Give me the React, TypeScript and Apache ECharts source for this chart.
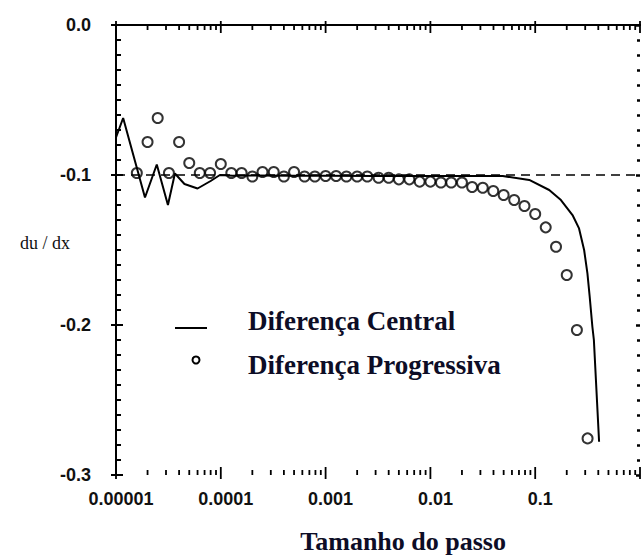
import { useEffect, useRef } from 'react';
import * as echarts from 'echarts';

// ---- Data ----
const xTickLabels = ['0.00001', '0.0001', '0.001', '0.01', '0.1'];
const yTickLabels = ['-0.3', '-0.2', '-0.1', '0.0'];

const centralName = 'Diferença Central';
const progressName = 'Diferença Progressiva';

const centralX = [
  1e-5, 1.17e-5, 1.89e-5, 2.45e-5, 3.13e-5, 3.65e-5, 4.5e-5, 6.0e-5, 8.0e-5, 9.8e-5,
  1.3e-4, 2e-4, 5e-4, 1e-3, 3e-3, 0.01, 0.03, 0.049, 0.0877, 0.136, 0.176, 0.227,
  0.262, 0.293, 0.315, 0.331, 0.351, 0.363, 0.407,
];
const centralY = [
  -0.075, -0.062, -0.115, -0.093, -0.12, -0.099, -0.106, -0.109, -0.104, -0.1,
  -0.1005, -0.1003, -0.1005, -0.1005, -0.1006, -0.1006, -0.1006, -0.1007, -0.1033, -0.11, -0.1167, -0.1267,
  -0.1356, -0.15, -0.1656, -0.181, -0.201, -0.21, -0.2778,
];

const progressX = [
  1.58e-5, 2.0e-5, 2.5e-5, 3.2e-5, 4.0e-5, 5.0e-5, 6.3e-5, 7.9e-5, 1.0e-4, 1.26e-4,
  1.58e-4, 2.0e-4, 2.5e-4, 3.2e-4, 4.0e-4, 5.0e-4, 6.3e-4, 7.9e-4, 1.0e-3, 1.26e-3,
  1.58e-3, 2.0e-3, 2.5e-3, 3.2e-3, 4.0e-3, 5.0e-3, 6.3e-3, 7.9e-3, 0.01, 0.0126,
  0.0158, 0.02, 0.025, 0.0316, 0.0398, 0.05, 0.063, 0.079, 0.1, 0.126,
  0.158, 0.2, 0.25, 0.316,
];
const progressY = [
  -0.0987, -0.078, -0.062, -0.0987, -0.078, -0.092, -0.0987, -0.0987, -0.0927, -0.0987,
  -0.0987, -0.101, -0.098, -0.098, -0.101, -0.098, -0.101, -0.101, -0.1007, -0.1007,
  -0.101, -0.101, -0.101, -0.1018, -0.1018, -0.1029, -0.1029, -0.1044, -0.1044, -0.105,
  -0.105, -0.105, -0.108, -0.1085, -0.1107, -0.1133, -0.1167, -0.1207, -0.126, -0.1349,
  -0.1478, -0.1667, -0.2033, -0.2756,
];

const referenceValue = -0.1;

const decades = [1e-5, 1e-4, 1e-3, 1e-2, 1e-1];
const minorMultipliers = [2, 3, 4, 5, 6, 7, 8, 9];

const X_MIN = 1e-5;
const X_MAX = 1;
const Y_MIN = -0.3;
const Y_MAX = 0;

export default function App() {
  const ref = useRef<HTMLDivElement>(null);

  useEffect(() => {
    const chart = echarts.init(ref.current as HTMLDivElement, null, { renderer: 'svg' });

    const tickData: number[][] = [];
    decades.forEach((d) => {
      tickData.push([d, Y_MIN, 1]);
      minorMultipliers.forEach((m) => tickData.push([d * m, Y_MIN, 0]));
    });
    tickData.push([X_MAX, Y_MIN, 1]);

    const textColor = '#0d0d26';
    const serif = "'Liberation Serif', 'Times New Roman', serif";
    const sans = "'Liberation Sans', Arial, sans-serif";

    const yCommon = {
      type: 'value',
      min: Y_MIN,
      max: Y_MAX,
      interval: 0.1,
      splitLine: { show: false },
    };

    const option: any = {
      animation: false,
      backgroundColor: '#ffffff',
      grid: { left: 116, right: 0, top: 25, bottom: 80, containLabel: false },
      xAxis: [
        {
          type: 'log',
          logBase: 10,
          min: X_MIN,
          max: X_MAX,
          position: 'bottom',
          axisLine: { show: true, lineStyle: { color: '#000', width: 2 } },
          axisTick: { show: false },
          splitLine: { show: false },
          axisLabel: {
            margin: 15,
            padding: [0, 0, 0, 10],
            fontFamily: sans,
            fontWeight: 'bold',
            fontSize: 18,
            color: '#111',
            formatter: (v: number) => {
              const i = Math.round(Math.log10(v)) + 5;
              return i >= 0 && i < xTickLabels.length ? xTickLabels[i] : '';
            },
          },
        },
        {
          type: 'log',
          logBase: 10,
          min: X_MIN,
          max: X_MAX,
          position: 'top',
          axisLine: { show: true, lineStyle: { color: '#000', width: 2 } },
          axisTick: { show: false },
          axisLabel: { show: false },
          splitLine: { show: false },
        },
      ],
      yAxis: [
        {
          ...yCommon,
          position: 'left',
          axisLine: { show: true, lineStyle: { color: '#000', width: 2 } },
          axisTick: { show: true, inside: true, length: 7, lineStyle: { color: '#000', width: 2 } },
          minorTick: { show: true, splitNumber: 10, length: 5, lineStyle: { color: '#000', width: 2 } },
          axisLabel: {
            margin: 25,
            padding: [0, 0, 11, 0],
            fontFamily: sans,
            fontWeight: 'bold',
            fontSize: 18,
            color: '#111',
            formatter: (v: number) => {
              const i = Math.round((v - Y_MIN) / 0.1);
              return yTickLabels[i] ?? '';
            },
          },
        },
        {
          ...yCommon,
          position: 'left',
          axisLine: { show: false },
          axisTick: { show: true, inside: false, length: 5, lineStyle: { color: '#000', width: 2 } },
          axisLabel: { show: false },
        },
        {
          ...yCommon,
          position: 'right',
          axisLine: { show: false },
          axisTick: { show: true, inside: true, length: 4, lineStyle: { color: '#000', width: 2.5 } },
          minorTick: { show: true, splitNumber: 10, length: 3, lineStyle: { color: '#000', width: 2.5 } },
          axisLabel: { show: false },
        },
      ],
      graphic: [
        {
          type: 'text',
          left: 20,
          top: 234,
          style: { text: 'du / dx', font: `18px ${serif}`, fill: '#111' },
        },
        {
          type: 'text',
          x: 506,
          y: 541,
          style: {
            text: 'Tamanho do passo',
            font: `bold 26px ${serif}`,
            fill: textColor,
            align: 'right',
            verticalAlign: 'middle',
          },
        },
        {
          type: 'line',
          shape: { x1: 175, y1: 328, x2: 207, y2: 328 },
          style: { stroke: '#000', lineWidth: 2 },
        },
        {
          type: 'circle',
          shape: { cx: 196, cy: 360, r: 3.5 },
          style: { stroke: '#000', lineWidth: 2, fill: 'transparent' },
        },
        {
          type: 'text',
          x: 248,
          y: 321,
          style: { text: centralName, font: `bold 27px ${serif}`, fill: textColor, verticalAlign: 'middle' },
        },
        {
          type: 'text',
          x: 248,
          y: 365,
          style: { text: progressName, font: `bold 27px ${serif}`, fill: textColor, verticalAlign: 'middle' },
        },
      ],
      series: [
        {
          type: 'custom',
          name: 'xticks',
          silent: true,
          clip: false,
          xAxisIndex: 0,
          yAxisIndex: 0,
          encode: { x: 0, y: 1 },
          data: tickData,
          renderItem: (params: any, api: any) => {
            const cs = params.coordSys;
            const x = api.coord([api.value(0), Y_MIN])[0];
            const major = api.value(2) === 1;
            const bottom = cs.y + cs.height;
            const top = cs.y;
            const lenIn = major ? 8 : 5;
            const lenOut = major ? 4 : 0;
            const st = { stroke: '#000', lineWidth: 1.8 };
            return {
              type: 'group',
              children: [
                { type: 'line', shape: { x1: x, y1: bottom + lenOut, x2: x, y2: bottom - lenIn }, style: st },
                { type: 'line', shape: { x1: x, y1: top - lenOut, x2: x, y2: top + lenIn }, style: st },
              ],
            };
          },
        },
        {
          type: 'line',
          name: centralName,
          xAxisIndex: 0,
          yAxisIndex: 0,
          data: centralX.map((x, i) => [x, centralY[i]]),
          showSymbol: false,
          symbol: 'none',
          lineStyle: { color: '#000', width: 2 },
          z: 3,
          markLine: {
            silent: true,
            symbol: ['none', 'none'],
            label: { show: false },
            lineStyle: { color: '#000', width: 1.5, type: [9, 6] },
            data: [{ yAxis: referenceValue }],
          },
        },
        {
          type: 'scatter',
          name: progressName,
          xAxisIndex: 0,
          yAxisIndex: 0,
          data: progressX.map((x, i) => [x, progressY[i]]),
          symbol: 'circle',
          symbolSize: 10,
          itemStyle: { color: 'rgba(0,0,0,0)', borderColor: '#000', borderWidth: 2 },
          z: 4,
        },
      ],
    };

    chart.setOption(option);
    return () => chart.dispose();
  }, []);

  return (
    <div
      ref={ref}
      style={{ position: 'absolute', left: 0, top: 0, width: 643, height: 555, background: '#fff' }}
    />
  );
}
